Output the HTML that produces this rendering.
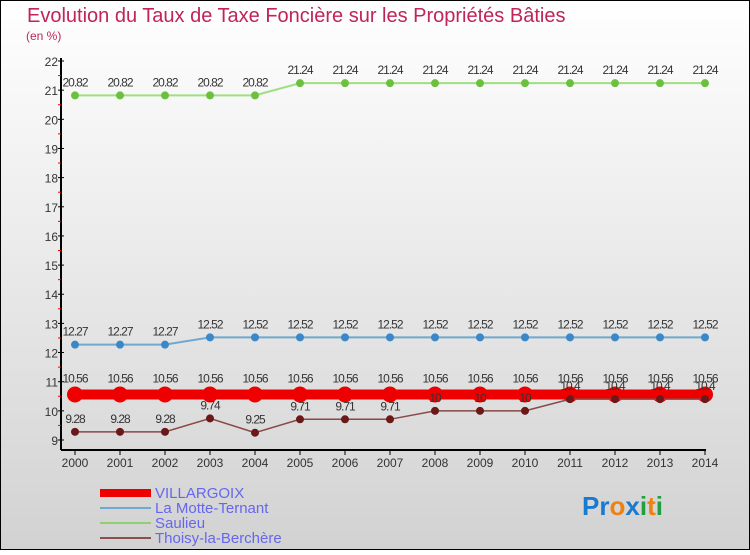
<!DOCTYPE html>
<html><head><meta charset="utf-8"><style>
html,body{margin:0;padding:0;}
body{width:750px;height:550px;overflow:hidden;font-family:"Liberation Sans",sans-serif;}
svg text{font-family:"Liberation Sans",sans-serif;}
</style></head><body>
<svg id="chart" width="750" height="550" xmlns="http://www.w3.org/2000/svg">
<defs><linearGradient id="bg" x1="0" y1="0" x2="0" y2="1"><stop offset="0" stop-color="#ffffff"/><stop offset="1" stop-color="#d2d2d2"/></linearGradient></defs>
<rect x="0.5" y="0.5" width="749" height="549" fill="url(#bg)" stroke="#000"/>
<text x="27" y="22" font-size="20" fill="#c0245a">Evolution du Taux de Taxe Foncière sur les Propriétés Bâties</text>
<text x="26" y="40" font-size="12" fill="#c0245a">(en %)</text>
<g id="axes"></g><g id="series"></g>
<g>
<rect x="100" y="489" width="51" height="8" fill="#e00"/>
<text x="155" y="498" font-size="15" fill="#6666ee">VILLARGOIX</text>
<rect x="100" y="507" width="51" height="2" fill="#6fa8d0"/>
<text x="155" y="513" font-size="15" fill="#6666ee">La Motte-Ternant</text>
<rect x="100" y="522" width="51" height="2" fill="#8fd070"/>
<text x="155" y="528" font-size="15" fill="#6666ee">Saulieu</text>
<rect x="100" y="537" width="51" height="2" fill="#8a5050"/>
<text x="155" y="543" font-size="15" fill="#6666ee">Thoisy-la-Berchère</text>
</g>
<text x="582" y="515" font-size="26" font-weight="bold"><tspan fill="#1a7ad0">Pr</tspan><tspan fill="#f08010">o</tspan><tspan fill="#1a7ad0">x</tspan><tspan fill="#20a040">i</tspan><tspan fill="#f08010">t</tspan><tspan fill="#20a040">i</tspan></text>
</svg>
<script>
const years=[2000,2001,2002,2003,2004,2005,2006,2007,2008,2009,2010,2011,2012,2013,2014];
const villargoix=[10.56,10.56,10.56,10.56,10.56,10.56,10.56,10.56,10.56,10.56,10.56,10.56,10.56,10.56,10.56];
const motte=[12.27,12.27,12.27,12.52,12.52,12.52,12.52,12.52,12.52,12.52,12.52,12.52,12.52,12.52,12.52];
const saulieu=[20.82,20.82,20.82,20.82,20.82,21.24,21.24,21.24,21.24,21.24,21.24,21.24,21.24,21.24,21.24];
const thoisy=[9.28,9.28,9.28,9.74,9.25,9.71,9.71,9.71,10,10,10,10.4,10.4,10.4,10.4];
const yTicks=[9,10,11,12,13,14,15,16,17,18,19,20,21,22];
const NS="http://www.w3.org/2000/svg";
const xS=i=>75+i*45;
const yS=v=>440-(v-9)*(379/13);
function mk(tag,attrs,parent){const e=document.createElementNS(NS,tag);for(const k in attrs)e.setAttribute(k,attrs[k]);parent.appendChild(e);return e;}
const ax=document.getElementById('axes');
let a=mk('line',{x1:61,y1:58,x2:61,y2:450,stroke:'#000','stroke-width':2},ax);


a=mk('line',{x1:61,y1:450,x2:706,y2:450,stroke:'#000','stroke-width':2},ax);


yTicks.forEach(v=>{
 mk('line',{x1:58,y1:yS(v),x2:64,y2:yS(v),stroke:'#000'},ax);
 if(v<22) mk('line',{x1:58,y1:yS(v+0.5),x2:61,y2:yS(v+0.5),stroke:'#e00'},ax);
 const t=mk('text',{x:58,y:yS(v)+5,'font-size':12,fill:'#333','text-anchor':'end'},ax);t.textContent=v;
 
 
});
years.forEach((y,i)=>{
 mk('line',{x1:xS(i),y1:450,x2:xS(i),y2:455,stroke:'#000'},ax);
 const t=mk('text',{x:xS(i),y:467,'font-size':12,fill:'#333','text-anchor':'middle'},ax);t.textContent=y;
 
 
});
const sg=document.getElementById('series');
function series(vals,name,line,dot,lw,r){
 const g=mk('g',{},sg);
 
 
 const p=mk('polyline',{points:vals.map((v,i)=>xS(i)+','+yS(v)).join(' '),fill:'none',stroke:line,'stroke-width':lw},g);
 
 
 vals.forEach((v,i)=>{
  const c=mk('circle',{cx:xS(i),cy:yS(v),r:r,fill:dot},g);
  
  
  const t=mk('text',{x:xS(i),y:yS(v)-9-(r>5?3:0),'font-size':12,fill:'#333','text-anchor':'middle','letter-spacing':'-1'},g);
  t.textContent=v;
  
  
 });
}
series(saulieu,'saulieu','#9ee080','#6cc040',2,4);
series(motte,'la-motte-ternant','#6fa8d0','#3a88c8',2,4);
series(villargoix,'villargoix','#ee0000','#ee0000',10,8);
series(thoisy,'thoisy-la-berchere','#8a4848','#6a1818',1.5,4);
</script>
</body></html>
